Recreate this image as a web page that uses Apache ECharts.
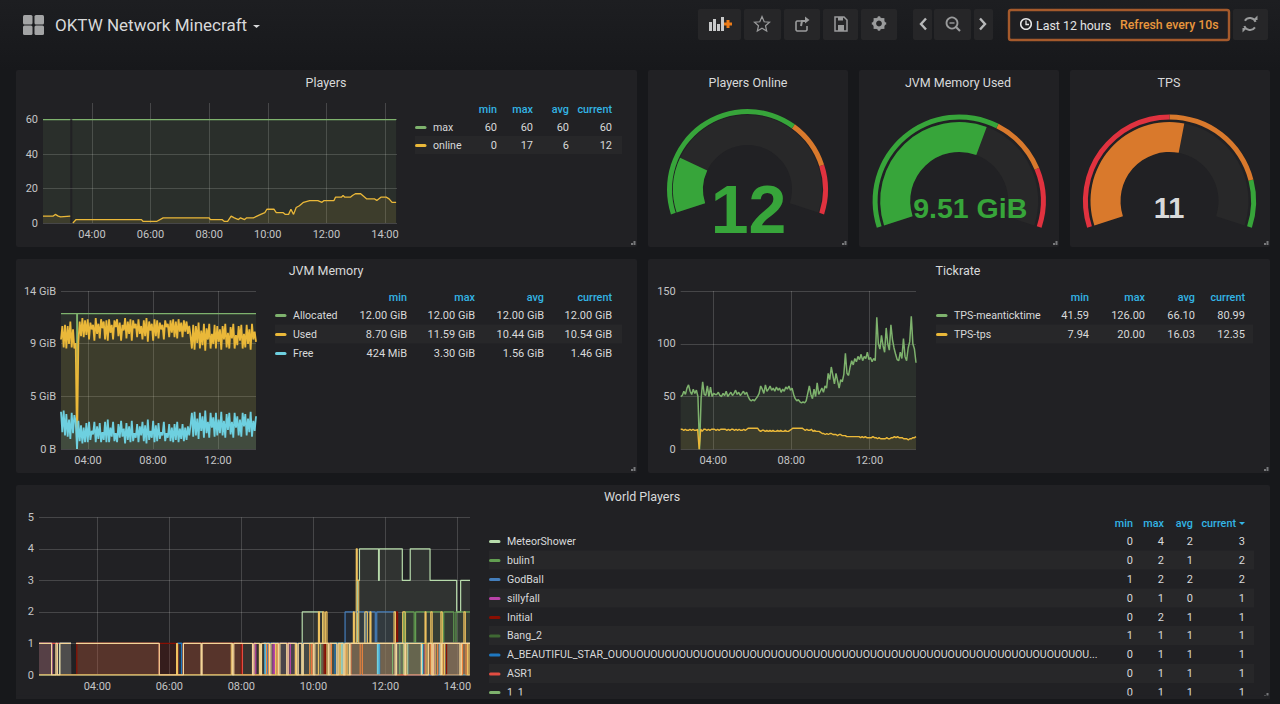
<!DOCTYPE html>
<html><head><meta charset="utf-8">
<style>html,body{margin:0;padding:0;background:#17181b}#c{width:1280px;height:704px}</style>
<script src="https://cdn.jsdelivr.net/npm/echarts@6/dist/echarts.min.js"></script>
</head><body><div id="c"></div>
<script>
// ---------- tick labels ----------
const hoursEvery2 = [4,6,8,10,12,14];
const hoursEvery4 = [4,8,12];
const playersTicks = [0,20,40,60];
const memoryTicks = [0,14/3,28/3,14];
const tickrateTicks = [0,50,100,150];
const worldTicks = [0,1,2,3,4,5];

// ---------- Players ----------
const playersMax = [[2.33,60],[3.26,60],[3.27,null],[3.33,60],[14.38,60]];
const playersOnline = [[2.33,4],[2.68,4],[2.75,5],[2.85,4],[2.93,3.5],[3.26,4],[3.28,null],[3.35,0],[3.46,2],[5.69,2],[5.74,1],[6.22,1],[6.43,3],[8.0,3],[8.04,2],[8.44,2],[8.51,1],[8.63,1],[8.75,4],[8.86,3],[9.0,2],[9.07,3],[9.21,2],[9.28,3],[9.51,3],[9.76,5],[9.9,6],[9.97,8],[10.21,8],[10.29,6],[10.53,6],[10.6,5],[10.71,5],[10.79,8],[10.88,5],[10.97,9],[11.08,10],[11.22,12],[11.43,13],[11.71,13],[11.85,12],[11.92,13],[12.26,13],[12.31,15],[12.51,15],[12.57,16],[12.63,15],[12.82,15],[12.89,16],[12.99,17],[13.17,17],[13.38,14],[13.65,14],[13.72,13],[13.86,15],[14.04,15],[14.14,14],[14.24,12],[14.38,12]];

// ---------- JVM memory (GiB), evenly spaced samples across the window ----------
const memoryFrom = 2.34, memoryTo = 14.34;
const memAllocated = [[2.34,12],[3.31,12],[3.33,0],[3.35,12],[14.34,12]];
const memUsed = [9.7,10.9,9.0,11.0,8.9,10.9,9.3,11.3,9.0,10.6,8.9,9.4,0,9.5,11.3,10.0,11.6,9.9,11.4,10.1,11.5,9.7,11.2,10.6,11.0,9.6,11.6,10.2,11.1,9.8,11.5,10.7,11.3,9.7,11.4,9.6,11.5,10.3,11.0,9.7,11.4,10.8,11.5,10.0,11.2,9.6,11.0,10.5,11.6,9.8,11.3,10.2,11.5,9.6,11.4,10.7,11.1,9.9,11.5,10.2,10.9,9.7,11.4,10.0,11.6,9.5,11.3,10.5,11.1,9.6,11.5,10.0,11.4,9.8,11.2,10.6,11.0,9.7,11.4,10.8,11.1,9.9,11.4,10.3,11.5,9.9,11.3,9.8,11.5,10.4,11.2,9.9,11.4,10.4,11.3,10.2,10.9,10.0,8.9,11.0,8.8,10.9,9.4,11.2,8.9,10.5,9.2,11.1,8.7,10.7,9.7,11.1,8.9,10.2,9.3,11.0,8.9,10.9,9.5,10.6,8.8,10.9,9.7,11.1,9.0,10.3,8.9,10.8,9.8,11.1,8.9,10.1,9.2,10.9,9.6,11.0,8.9,10.2,9.0,11.0,9.3,10.6,8.8,11.1,9.7,10.4,9.5];
const memFree = [3.3,1.5,3.4,1.2,3.1,1.1,2.6,0.9,3.2,1.4,3.0,2.4,0,2.5,0.7,2.1,0.5,1.9,0.6,2.3,0.6,2.4,0.8,1.6,1.3,2.4,0.6,2.0,0.9,2.3,0.6,1.5,0.8,2.4,0.6,2.6,0.6,1.9,1.1,2.4,0.7,1.4,0.6,2.2,1.0,2.5,1.1,1.8,0.5,2.3,0.8,2.0,0.6,2.5,0.7,1.4,1.0,2.2,0.6,2.0,1.2,2.4,0.7,2.1,0.5,2.6,0.8,1.6,1.0,2.5,0.6,2.1,0.7,2.3,0.9,1.5,1.2,2.4,0.7,1.4,1.0,2.2,0.7,1.9,0.6,2.2,0.8,2.4,0.6,1.8,0.9,2.2,0.7,1.9,0.8,2.0,1.2,2.1,3.2,1.1,3.3,1.2,2.7,0.9,3.2,1.6,2.9,1.0,3.4,1.4,2.4,1.0,3.2,1.9,2.8,1.1,3.2,1.2,2.6,1.4,3.3,1.2,2.5,1.0,3.1,1.7,3.2,1.3,2.4,1.0,3.2,1.9,2.9,1.2,2.6,1.1,3.2,2.0,3.1,1.2,2.7,1.5,3.3,1.1,2.5,1.6,2.9];

// ---------- Tickrate, evenly spaced samples across the window ----------
const tickFrom = 2.33, tickTo = 14.39;
const tickMean = [50,51,55,52,58,61,55,52,57,53,56,50,0,48,64,52,51,60,50,59,50,53,52,52,54,51,50,53,51,55,50,52,54,51,53,56,52,54,51,53,55,52,54,50,47,46,47,46,48,50,53,60,57,53,61,55,57,60,56,58,55,59,56,58,54,57,55,59,57,60,56,58,52,48,46,47,45,44,45,44,46,53,60,52,48,57,50,63,52,55,58,54,60,58,72,66,78,70,62,72,65,58,66,64,71,91,72,70,78,84,80,86,83,88,85,90,84,88,86,92,85,87,83,86,84,125,100,95,108,98,92,115,100,94,118,104,96,90,85,84,92,86,105,88,84,96,102,126,100,95,82];
const tickTps = [19,19,18,19,18,18,19,18,19,18,18,19,0,19,17,19,19,18,19,18,19,19,19,18,19,18,19,19,19,19,18,19,18,19,19,18,19,18,19,18,18,19,18,19,20,20,20,20,20,20,20,18,17,18,18,17,18,17,18,17,18,17,17,18,17,18,17,17,18,17,17,18,19,20,20,20,20,20,20,20,19,18,19,18,18,19,17,18,17,17,17,16,15,15,14,15,14,15,15,14,14,14,13,14,14,13,13,13,12,12,12,12,12,12,12,12,12,11,12,11,12,11,11,11,11,12,11,11,10,11,10,10,10,10,11,10,10,11,11,12,11,12,11,11,11,10,10,10,9,10,10,11,11,12];

// ---------- World Players, [hour, level] change points ----------
const wMeteor = [[2.38,0],[9.69,2],[10.26,1],[11.22,3],[11.28,4],[11.81,3],[11.83,4],[12.47,3],[12.69,4],[13.24,3],[13.98,2],[14.09,3],[14.35,3]];
const wBulin = [[2.38,0],[12.5,2],[12.54,1],[12.56,2],[12.8,1],[12.84,2],[13.58,1],[13.62,2],[13.9,1],[13.96,2],[14.35,2]];
const wGodBall = [[2.38,1],[3.27,1],[3.28,null],[6.22,1],[6.36,null],[8.62,1],[8.68,0],[8.72,1],[10.88,2],[11.42,1],[11.46,2],[11.72,1],[11.76,2],[12.28,1],[12.33,1],[14.35,1]];
const wSillyfall = [[2.38,1],[2.74,0],[8.3,0],[8.34,1],[8.4,0],[8.88,1],[8.92,0],[9.3,1],[9.36,0],[13.35,1],[14.35,1]];
const wInitial = [[2.38,0],[3.43,1],[6.24,0],[6.39,1],[8.0,0],[8.05,0],[10.3,1],[10.34,0],[11.05,1],[12.3,2],[12.34,1],[13.3,0],[13.7,1],[14.35,1]];
const wBang = [[2.38,0],[9.9,1],[14.35,1]];
const wBeautiful = [[2.38,0],[6.22,1],[6.34,0],[8.66,1],[9.5,0],[10.6,1],[11.8,0],[11.84,1],[12.36,1],[13.08,0],[13.5,1],[14.35,1]];
const wAsr = [[2.38,1],[3.27,1],[3.28,null],[3.41,1],[5.72,0],[6.39,1],[8.03,0],[9.0,1],[9.5,0],[9.95,1],[10.5,0],[10.9,1],[12.3,0],[13.1,1],[14.35,1]];
const wOneOne = [[2.38,0],[9.9,1],[10.2,0],[11.0,1],[12.2,0],[12.4,1],[14.35,1]];
const wPale = [[2.38,1],[2.73,0],[2.85,1],[2.89,0],[2.96,1],[3.27,1],[3.28,null],[3.41,1],[5.72,0],[6.39,1],[6.88,0],[6.91,1],[7.75,0],[7.79,1],[8.31,0],[8.35,1],[8.52,0],[8.56,1],[8.78,0],[8.82,1],[9.03,0],[9.07,1],[9.26,0],[9.3,1],[9.54,0],[9.58,1],[9.68,0],[9.72,1],[10.0,0],[10.04,1],[10.42,0],[10.46,1],[10.65,0],[10.69,1],[10.83,0],[10.87,1],[11.0,0],[11.04,1],[12.27,0],[12.31,1],[12.52,0],[12.56,1],[13.0,0],[13.19,1],[13.29,0],[13.33,1],[13.52,0],[13.56,1],[14.07,0],[14.11,1],[14.35,1]];
const wGold = [[2.38,0],[5.72,0],[6.2,1],[6.23,0],[7.72,1],[7.76,0],[8.5,1],[8.53,0],[8.95,1],[8.99,0],[9.5,1],[9.53,0],[10.14,2],[10.17,1],[10.26,2],[10.3,1],[10.34,2],[10.38,0],[10.72,1],[10.76,0],[10.9,1],[10.94,0],[11.0,1],[11.11,2],[11.14,1],[11.19,4],[11.22,3],[11.26,1],[11.43,2],[11.5,1],[11.57,2],[11.6,1],[12.24,2],[12.28,1],[12.48,2],[12.55,0],[12.6,1],[13.1,2],[13.13,0],[13.19,1],[13.26,2],[13.3,0],[13.38,1],[13.54,2],[13.58,0],[13.64,1],[14.18,2],[14.22,1],[14.28,0],[14.32,1],[14.35,1]];
const wOrange = [[2.38,0],[8.7,1],[8.76,0],[9.9,1],[9.96,0],[10.42,1],[10.5,0],[11.3,1],[11.36,0],[13.2,1],[13.26,0],[13.45,1],[13.6,0],[14.14,1],[14.24,0],[14.35,0]];
const wCyan = [[2.38,0],[2.95,1],[3.27,1],[3.28,null],[8.62,1],[8.66,0],[10.78,1],[10.82,0],[11.78,1],[11.82,0],[12.3,1],[12.62,0],[13.0,1],[13.03,0],[14.35,0]];

// ---------- gauges ----------
const gaugeOnlineValue = 12, gaugeOnlineMax = 60, gaugeOnlineSteps = [40,50];
const gaugeMemoryValue = 9.51, gaugeMemoryMax = 16, gaugeMemorySteps = [10,13];
const gaugeTpsValue = 11, gaugeTpsMax = 20, gaugeTpsSteps = [10,17];

// ---------- legend tables ----------
const legendHead = ['min','max','avg','current'];
const playersLegend = [['max','#7eb26d','60','60','60','60'],['online','#eab839','0','17','6','12']];
const memoryLegend = [['Allocated','#7eb26d','12.00 GiB','12.00 GiB','12.00 GiB','12.00 GiB'],['Used','#eab839','8.70 GiB','11.59 GiB','10.44 GiB','10.54 GiB'],['Free','#6ed0e0','424 MiB','3.30 GiB','1.56 GiB','1.46 GiB']];
const tickLegend = [['TPS-meanticktime','#7eb26d','41.59','126.00','66.10','80.99'],['TPS-tps','#eab839','7.94','20.00','16.03','12.35']];
const worldLegend = [['MeteorShower','#b7dbab','0','4','2','3'],['bulin1','#629e51','0','2','1','2'],['GodBall','#447ebc','1','2','2','2'],['sillyfall','#ba43a9','0','1','0','1'],['Initial','#890f02','0','2','1','1'],['Bang_2','#3f6833','1','1','1','1'],['A_BEAUTIFUL_STAR_OUOUOUOUOUOUOUOUOUOUOUOUOUOUOUOUOUOUOUOUOUOUOUOUOUOUOUOUOUOUOUOUOUOUOUOUOUOUOUOUOUOUOUOUOUOUOUOUOUOUOUOUOUOUOUOUOUOUOU','#1f78c1','0','1','1','1'],['ASR1','#e24d42','0','1','1','1'],['1_1','#7eb26d','0','1','1','1']];

// ---------- palette ----------
const C = {page:'#17181b',panel:'#212124',row:'#272729',btn:'#262628',text:'#d8d9da',axis:'#c4c5c6',blue:'#33b5e5',
  green:'#37a53a',orange:'#d9792c',red:'#e0323f',track:'#282829',grid:'rgba(255,255,255,0.17)'};
const FONT = 'Roboto, sans-serif';

// ---------- graphic helpers ----------
const g = [];
const R = (x,y,w,h,fill,r,z,extra) => g.push({type:'rect',silent:true,z:z||0,shape:{x,y,width:w,height:h,r:r||0},style:Object.assign({fill},extra||{})});
const T = (text,x,y,size,fill,align,weight,z,extra) => g.push({type:'text',silent:true,z:z||5,x,y,style:Object.assign({text,fill,font:(weight||'normal')+' '+size+'px '+FONT,textAlign:align||'left',textVerticalAlign:'middle'},extra||{})});
const stroke = (c,w) => ({fill:'none',stroke:c,lineWidth:w||1.5});
const PL = (pts,c,w) => g.push({type:'polyline',silent:true,z:5,shape:{points:pts},style:stroke(c,w)});
const CI = (cx,cy,r,c,w) => g.push({type:'circle',silent:true,z:5,shape:{cx,cy,r},style:stroke(c,w)});

// top of the page is slightly lighter than the gutters
g.push({type:'rect',silent:true,z:-1,shape:{x:0,y:0,width:1280,height:70},style:{fill:{type:'linear',x:0,y:0,x2:0,y2:1,colorStops:[{offset:0,color:'#1d1e21'},{offset:1,color:'#17181b'}]}}});

// panels
const panels = [[16,70,621,177],[648,70,200,177],[859,70,200,177],[1070,70,200,177],[16,259,621,214],[648,259,622,214],[16,485,1254,214]];
panels.forEach(p => {
  R(p[0],p[1],p[2],p[3],C.panel,2);
  const x = p[0]+p[2], y = p[1]+p[3];
  R(x-6,y-4,2,2,'#77787a',0,3); R(x-3.5,y-6,2,4,'#77787a',0,3);
});
// panel titles
[['Players',326,82.5],['Players Online',748,82.5],['JVM Memory Used',958,82.5],['TPS',1169,82.5],['JVM Memory',326,270.5],['Tickrate',958,270.5],['World Players',642,496.5]]
  .forEach(t => T(t[0],t[1],t[2],12.5,C.text,'center','normal'));

// legend tables
function table(rows, swX, nameX, cols, headY, rowYs, rightX, nameWidth, shadeH) {
  legendHead.forEach((h,i) => T(h,cols[i] - (rows===worldLegend&&i===3?9:0),headY,10.8,C.blue,'right','500'));
  rows.forEach((r,i) => {
    const y = rowYs[i];
    if (i%2===1) R(swX,y-shadeH/2,rightX-swX,shadeH,C.row,0,1);
    R(swX,y-1,11.5,3,r[1],1.5,4);
    T(r[0],nameX,y,10.6,C.text,'left','normal',5,nameWidth?{width:nameWidth,overflow:'truncate',ellipsis:'...'}:{});
    for (let k=0;k<4;k++) T(r[2+k],cols[k],y,11,C.text,'right');
  });
}
table(playersLegend,415,433,[497,533,569,612],109,[127,145],622,0,18);
table(memoryLegend,275,293,[407,475,544,612],297,[315,334,353],622,0,19);
table(tickLegend,936,954,[1089,1145,1195,1245],297,[315,334],1253,0,19);
table(worldLegend,489,507,[1133,1164,1193,1245],523,[541,560,579,598,617,635.5,654.5,673.5,692],1254,594,19);
g.push({type:'polygon',silent:true,z:5,shape:{points:[[1239,522],[1245,522],[1242,525]]},style:{fill:C.blue}});
// bottom clip of the scrolled legend
R(16,695.5,1254,3.5,C.panel,0,20);
R(0,699,1280,5,C.page,0,21);

// header
[[23,15],[34.5,15],[23,25.5],[34.5,25.5]].forEach(p => R(p[0],p[1],9.5,9.5,'#a3a4a5',1.5,5));
T('OKTW Network Minecraft',55,24.5,17,C.text,'left');
g.push({type:'polygon',silent:true,z:5,shape:{points:[[253,25],[260,25],[256.5,28]]},style:{fill:C.text}});
[[698,43],[744,37],[784,36],[823,35],[861,36],[913,19],[934,37],[974,19],[1233,35]].forEach(b => R(b[0],9,b[1],31,C.btn,2));
R(1009,10,220,30,'#1f1f22',2,1,{stroke:'#a55a2c',lineWidth:2.4});
// add panel icon
[[709,22,3,9],[713,19,3,12],[717,24,3,7],[721,17,3,14]].forEach(b => R(b[0],b[1],b[2],b[3],'#c8c9ca',0,5));
R(724,22.5,8,3,'#eb7b18',0,6); R(726.5,20,3,8,'#eb7b18',0,6);
// star
g.push({type:'polygon',silent:true,z:5,shape:{points:[[762,16.5],[764.2,21.8],[769.5,22.2],[765.5,25.7],[766.7,31],[762,28.2],[757.3,31],[758.5,25.7],[754.5,22.2],[759.8,21.8]]},style:stroke('#9a9b9c',1.2)});
// share
PL([[804,21],[797,21],[796,22],[796,30],[797,31],[806,31],[807,30],[807,26]],'#9a9b9c',1.6);
PL([[801,26],[802,21],[807,21]],'#9a9b9c',2); g.push({type:'polygon',silent:true,z:5,shape:{points:[[805,16.5],[809.5,20],[805,23.5]]},style:{fill:'#9a9b9c'}});
// save
g.push({type:'polygon',silent:true,z:5,shape:{points:[[835,17],[844,17],[847,20],[847,31],[835,31]]},style:stroke('#9a9b9c',1.5)});
R(838,17,5,3.5,'#9a9b9c',0,6); R(838,25,6,6,'#9a9b9c',0,6);
// gear
g.push({type:'circle',silent:true,z:5,shape:{cx:879,cy:23.5,r:4.5},style:stroke('#9a9b9c',3.2)});
[[879,17.5],[879,29.5],[873,23.5],[885,23.5],[874.8,19.3],[883.2,19.3],[874.8,27.7],[883.2,27.7]].forEach(p => R(p[0]-1.2,p[1]-1.2,2.4,2.4,'#9a9b9c',0,6));
// nav
PL([[926,18.5],[921,24],[926,29.5]],'#b8b9ba',2.4);
CI(952,23,5.5,'#9a9b9c',1.8); PL([[956,27],[960,31]],'#9a9b9c',2.2); PL([[949.5,23],[954.5,23]],'#9a9b9c',1.4);
PL([[980,18.5],[985,24],[980,29.5]],'#b8b9ba',2.4);
// time range
CI(1026,24,5.3,'#e6e7e8',1.5); PL([[1026,20.5],[1026,24.5],[1029,24.5]],'#e6e7e8',1.3);
T('Last 12 hours',1036,25,12.4,'#e3e4e5','left');
T('Refresh every 10s',1120,25,12.3,'#e9973d','left','500');
// refresh
g.push({type:'arc',silent:true,z:5,shape:{cx:1250,cy:24,r:6,startAngle:3.7,endAngle:5.9},style:stroke('#9a9b9c',2)});
g.push({type:'arc',silent:true,z:5,shape:{cx:1250,cy:24,r:6,startAngle:0.6,endAngle:2.8},style:stroke('#9a9b9c',2)});
g.push({type:'polygon',silent:true,z:5,shape:{points:[[1253,20],[1257.5,20],[1257.5,15.5]]},style:{fill:'#9a9b9c'}});
g.push({type:'polygon',silent:true,z:5,shape:{points:[[1247,28],[1242.5,28],[1242.5,32.5]]},style:{fill:'#9a9b9c'}});

// ---------- cartesian panels ----------
const grids = [
  {left:43,width:354,top:103,height:120},
  {left:61,width:195,top:291,height:158},
  {left:680.7,width:235.3,top:291,height:158.3},
  {left:39,width:431,top:517.3,height:157.7}
];
const hh = v => (v<10?'0':'')+Math.round(v)+':00';
const xAxisOf = (i,min,max,ticks) => ({type:'value',gridIndex:i,min,max,z:1,
  axisLine:{show:false},axisTick:{show:false,customValues:ticks},
  axisLabel:{customValues:ticks,formatter:hh,color:C.axis,fontSize:11,fontFamily:FONT,margin:6,hideOverlap:false},
  splitLine:{show:true,lineStyle:{color:C.grid,width:1}}});
const yAxisOf = (i,min,max,ticks,fmt) => ({type:'value',gridIndex:i,min,max,z:1,
  axisLine:{show:false},axisTick:{show:false,customValues:ticks},
  axisLabel:{customValues:ticks,formatter:fmt,color:C.axis,fontSize:11,fontFamily:FONT,margin:5},
  splitLine:{show:true,lineStyle:{color:C.grid,width:1}}});
const lineS = (name,i,data,color,width,opacity,step) => ({type:'line',name,xAxisIndex:i,yAxisIndex:i,data,step:step?'end':false,
  showSymbol:false,symbol:'none',silent:true,animation:false,connectNulls:false,clip:true,z:2,
  lineStyle:{color,width},itemStyle:{color},areaStyle:{color,opacity}});
const spread = (from,to,vals) => vals.map((v,i) => [+(from+i*(to-from)/(vals.length-1)).toFixed(3),v]);

// ---------- gauges ----------
function gauge(cx,cy,rOuter,rValue,value,max,steps,color,detail) {
  const common = {type:'gauge',center:[cx,cy],min:0,max,startAngle:198,endAngle:-18,silent:true,animation:false,
    pointer:{show:false},axisTick:{show:false},splitLine:{show:false},axisLabel:{show:false},title:{show:false}};
  return [
    Object.assign({},common,{radius:rOuter,data:[{value}],detail:{show:false},
      axisLine:{lineStyle:{width:5,color:[[steps[0]/max,detail.c1],[steps[1]/max,detail.c2],[1,detail.c3]]}}}),
    Object.assign({},common,{radius:rValue,data:[{value}],
      axisLine:{lineStyle:{width:30,color:[[1,C.track]]}},
      progress:{show:true,width:30,itemStyle:{color}},
      detail:{show:true,valueAnimation:false,offsetCenter:detail.off,formatter:detail.fmt,color:detail.color,fontSize:detail.size,fontWeight:'bold',fontFamily:detail.font||FONT}})
  ];
}

const option = {
  backgroundColor:C.page,animation:false,
  graphic:{elements:g},
  grid:grids.map(x => Object.assign({containLabel:false},x)),
  xAxis:[xAxisOf(0,2.33,14.41,hoursEvery2),xAxisOf(1,2.34,14.34,hoursEvery4),xAxisOf(2,2.33,14.39,hoursEvery4),xAxisOf(3,2.38,14.35,hoursEvery2)],
  yAxis:[
    yAxisOf(0,0,69.7,playersTicks,v=>String(v)),
    yAxisOf(1,0,14,memoryTicks,v=>v===0?'0 B':Math.round(v)+' GiB'),
    yAxisOf(2,0,150,tickrateTicks,v=>String(v)),
    yAxisOf(3,0,5,worldTicks,v=>String(v))
  ],
  series:[
    lineS('max',0,playersMax,'#7eb26d',1.3,0.1),
    lineS('online',0,playersOnline,'#eab839',1.3,0.1),
    lineS('Allocated',1,memAllocated,'#7eb26d',1.3,0.1),
    lineS('Used',1,spread(memoryFrom,memoryTo,memUsed),'#eab839',1.8,0.1),
    lineS('Free',1,spread(memoryFrom,memoryTo,memFree),'#6ed0e0',1.8,0.1),
    lineS('TPS-meanticktime',2,spread(tickFrom,tickTo,tickMean),'#7eb26d',1.5,0.1),
    lineS('TPS-tps',2,spread(tickFrom,tickTo,tickTps),'#eab839',1.4,0.1),
    lineS('MeteorShower',3,wMeteor,'#b7dbab',1.2,0.1,true),
    lineS('bulin1',3,wBulin,'#629e51',1.2,0.1,true),
    lineS('GodBall',3,wGodBall,'#447ebc',1.2,0.1,true),
    lineS('sillyfall',3,wSillyfall,'#ba43a9',1.2,0.1,true),
    lineS('Initial',3,wInitial,'#890f02',1.2,0.2,true),
    lineS('Bang_2',3,wBang,'#3f6833',1.2,0.1,true),
    lineS('A_BEAUTIFUL_STAR',3,wBeautiful,'#1f78c1',1.2,0.1,true),
    lineS('ASR1',3,wAsr,'#e24d42',1.2,0.1,true),
    lineS('1_1',3,wOneOne,'#7eb26d',1.2,0.1,true),
    lineS('other-a',3,wCyan,'#6ed0e0',1.2,0.1,true),
    lineS('other-b',3,wOrange,'#ef843c',1.1,0.1,true),
    lineS('other-d',3,wGold,'#eec25f',1.1,0.1,true),
    lineS('other-c',3,wPale,'#f4d598',1.2,0.1,true),
    ...gauge(747.5,189.5,80.5,74.5,gaugeOnlineValue,gaugeOnlineMax,gaugeOnlineSteps,C.green,{c1:C.green,c2:C.orange,c3:C.red,off:[1,19],fmt:'{value}',color:C.green,size:68,font:'"Liberation Sans", sans-serif'}),
    ...gauge(959.2,201,86.6,79,gaugeMemoryValue,gaugeMemoryMax,gaugeMemorySteps,C.green,{c1:C.green,c2:C.orange,c3:C.red,off:[11,6.5],fmt:v=>v.toFixed(2)+' GiB',color:C.green,size:28.5,font:'"Liberation Sans", sans-serif'}),
    ...gauge(1169.5,201,86.6,79,gaugeTpsValue,gaugeTpsMax,gaugeTpsSteps,C.orange,{c1:C.red,c2:C.orange,c3:C.green,off:[-0.5,6.5],fmt:'{value}',color:C.text,size:29,font:'"Liberation Sans", sans-serif'})
  ]
};
const chart = echarts.init(document.getElementById('c'),null,{renderer:'svg',width:1280,height:704});
chart.setOption(option);
</script></body></html>
